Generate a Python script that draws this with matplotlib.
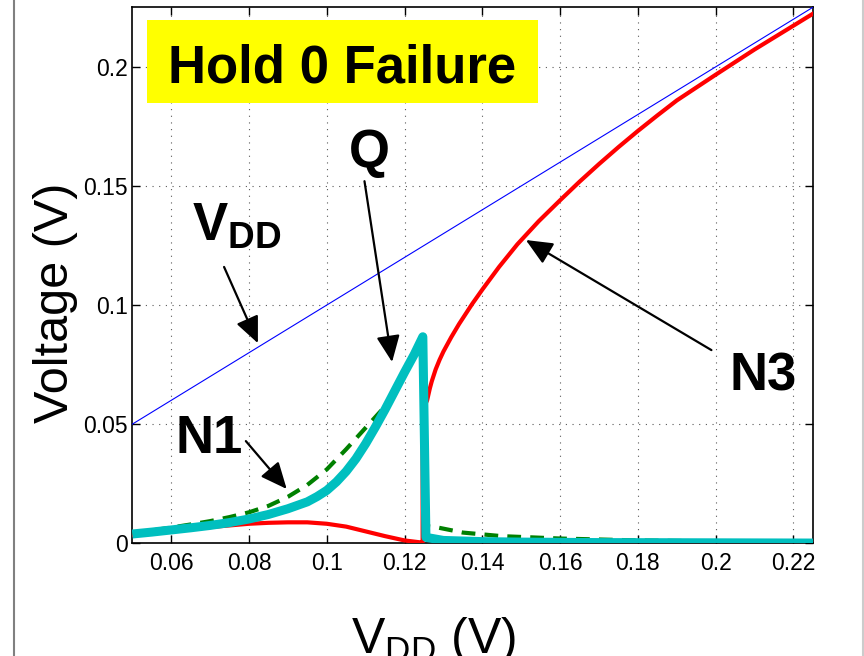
#!/usr/bin/env python3
"""
Hold-0 failure: internal node voltages vs. supply voltage sweep.
"""

import matplotlib
matplotlib.use("Agg")
import matplotlib.pyplot as plt
from matplotlib.lines import Line2D
from matplotlib.patches import Rectangle
from matplotlib.ticker import FuncFormatter

# ───────────────────────── data ─────────────────────────
# supply sweep for the reference line (V_DD itself)
vdd_ref = [0.05, 0.225]

# storage node Q
vdd_q = [0.05, 0.055, 0.06, 0.065, 0.07, 0.075, 0.08, 0.085, 0.09, 0.095, 0.0975,
         0.1, 0.1025, 0.105, 0.1075, 0.11, 0.1125, 0.115, 0.1175, 0.12, 0.1225, 0.1247,
         0.1255, 0.13, 0.14, 0.15, 0.17, 0.2, 0.225]
q_volt = [0.0039, 0.0047, 0.0056, 0.0065, 0.0075, 0.0087, 0.0102, 0.0121, 0.0145, 0.0174, 0.0196,
          0.0222, 0.0258, 0.0302, 0.0355, 0.0418, 0.0488, 0.0562, 0.0640, 0.0718, 0.0793, 0.0867,
          0.0025, 0.0012, 0.0007, 0.0005, 0.0003, 0.0002, 0.0001]

# node N1
vdd_n1 = [0.05, 0.055, 0.06, 0.065, 0.07, 0.075, 0.08, 0.085, 0.09, 0.095,
          0.1, 0.105, 0.11, 0.115, 0.12, 0.1247,
          0.1255, 0.128, 0.135, 0.145, 0.16, 0.18, 0.2, 0.225]
n1_volt = [0.0045, 0.0054, 0.0066, 0.0079, 0.0093, 0.0110, 0.0130, 0.0157, 0.0195, 0.0245,
           0.0310, 0.0395, 0.0485, 0.0575, 0.0720, 0.0860,
           0.0072, 0.0068, 0.0045, 0.0030, 0.0020, 0.0012, 0.0008, 0.0005]

# node N3
vdd_n3 = [0.05, 0.06, 0.07, 0.08, 0.085, 0.09, 0.095, 0.1, 0.105, 0.11,
          0.115, 0.12, 0.124, 0.12465, 0.12465, 0.1258, 0.1265, 0.127, 0.128, 0.129,
          0.13, 0.132, 0.134, 0.1374, 0.14, 0.1443, 0.149, 0.1545, 0.16, 0.165,
          0.17, 0.175, 0.18, 0.185, 0.19, 0.2, 0.21, 0.22, 0.225]
n3_volt = [0.0035, 0.0050, 0.0068, 0.0082, 0.0086, 0.0088, 0.0088, 0.0082, 0.0070, 0.0050,
           0.0030, 0.0012, 0.0004, 0.0003, 0.0560, 0.0600, 0.0650, 0.0680, 0.0730, 0.0770,
           0.0805, 0.0865, 0.0920, 0.1005, 0.1065, 0.1160, 0.1255, 0.1352, 0.1440, 0.1518,
           0.1592, 0.1663, 0.1731, 0.1796, 0.1859, 0.1967, 0.2073, 0.2173, 0.2223]

x_ticks = [0.06, 0.08, 0.1, 0.12, 0.14, 0.16, 0.18, 0.2, 0.22]
y_ticks = [0, 0.05, 0.1, 0.15, 0.2]


def main():
    plt.rcParams.update({
        "font.family": ["Liberation Sans", "DejaVu Sans"],
        "mathtext.fontset": "custom",
        "mathtext.rm": "Liberation Sans",
        "mathtext.bf": "Liberation Sans:bold",
    })

    fig = plt.figure(figsize=(8.64, 6.56), dpi=100)
    ax = fig.add_axes([0.1531, 0.1718, 0.7878, 0.8171])

    # curves
    ax.plot(vdd_ref, vdd_ref, color="#0000ff", lw=0.8, zorder=3)
    ax.plot(vdd_n3, n3_volt, color="#ff0000", lw=3.0, zorder=4,
            solid_joinstyle="round")
    ax.plot(vdd_n1, n1_volt, color="#008000", lw=3.0, zorder=5,
            dashes=(3.3, 2.2), dash_capstyle="butt")
    ax.plot(vdd_q, q_volt, color="#00bfbf", lw=6.5, zorder=6,
            solid_joinstyle="round", solid_capstyle="butt")

    ax.set_xlim(0.05, 0.225)
    ax.set_ylim(0, 0.225)
    ax.set_xticks(x_ticks)
    ax.set_yticks(y_ticks)
    fmt = FuncFormatter(lambda v, _: f"{v:g}")
    ax.xaxis.set_major_formatter(fmt)
    ax.yaxis.set_major_formatter(fmt)
    ax.tick_params(which="both", direction="in", top=True, right=True,
                   length=5.5, width=1.0, labelsize=16.5)
    ax.tick_params(axis="x", pad=6)
    ax.tick_params(axis="y", pad=3)
    for sp in ax.spines.values():
        sp.set_linewidth(1.2)
    ax.grid(True, linestyle=(0, (1, 5)), color="0.35", linewidth=0.8)
    ax.set_axisbelow(True)

    # title box
    ax.add_patch(Rectangle((0.0216, 0.8214), 0.5744, 0.1549,
                           transform=ax.transAxes, facecolor="#ffff00",
                           edgecolor="none", zorder=7))
    ax.text(0.1040, 0.1936, "Hold 0 Failure", fontsize=38, fontweight="bold",
            ha="center", va="baseline", zorder=8)

    # node labels with arrows
    labels = [
        ("Q", 0.1109, 0.158, "center"),
        (r"$\mathbf{V}_{\mathbf{DD}}$", 0.0653, 0.1273, "left"),
        ("N1", 0.0699, 0.0379, "center"),
        ("N3", 0.2122, 0.0643, "center"),
    ]
    for txt, lx, ly, ha in labels:
        ax.text(lx, ly, txt, fontsize=38, fontweight="bold",
                ha=ha, va="baseline", zorder=8)

    arrows = [
        ((0.1097, 0.152), (0.1168, 0.0761)),
        ((0.0736, 0.116), (0.0823, 0.084)),
        ((0.0792, 0.0429), (0.0897, 0.0228)),
        ((0.1989, 0.0811), (0.1512, 0.1273)),
    ]
    for start, tip in arrows:
        ax.annotate("", xy=tip, xytext=start,
                    arrowprops=dict(arrowstyle="-|>,head_length=0.9,head_width=0.4",
                                    mutation_scale=18, color="k", lw=1.6,
                                    shrinkA=0, shrinkB=0),
                    zorder=8)

    # axis labels
    fig.text(68 / 864, 1 - 303 / 656, "Voltage (V)", fontsize=35,
             rotation=90, rotation_mode="anchor", ha="center", va="baseline")
    fig.text(434 / 864, 1 - 653 / 656, r"$\mathrm{V}_{\mathrm{DD}}$ (V)",
             fontsize=36, ha="center", va="baseline")

    # page frame edges
    fig.add_artist(Line2D([14 / 864, 14 / 864], [0, 1],
                          transform=fig.transFigure, color="0.5", lw=1.5))
    fig.add_artist(Line2D([862.5 / 864, 862.5 / 864], [0, 1],
                          transform=fig.transFigure, color="0.8", lw=1.5))

    fig.savefig("out.png", dpi=100)
    plt.close(fig)


if __name__ == "__main__":
    main()
